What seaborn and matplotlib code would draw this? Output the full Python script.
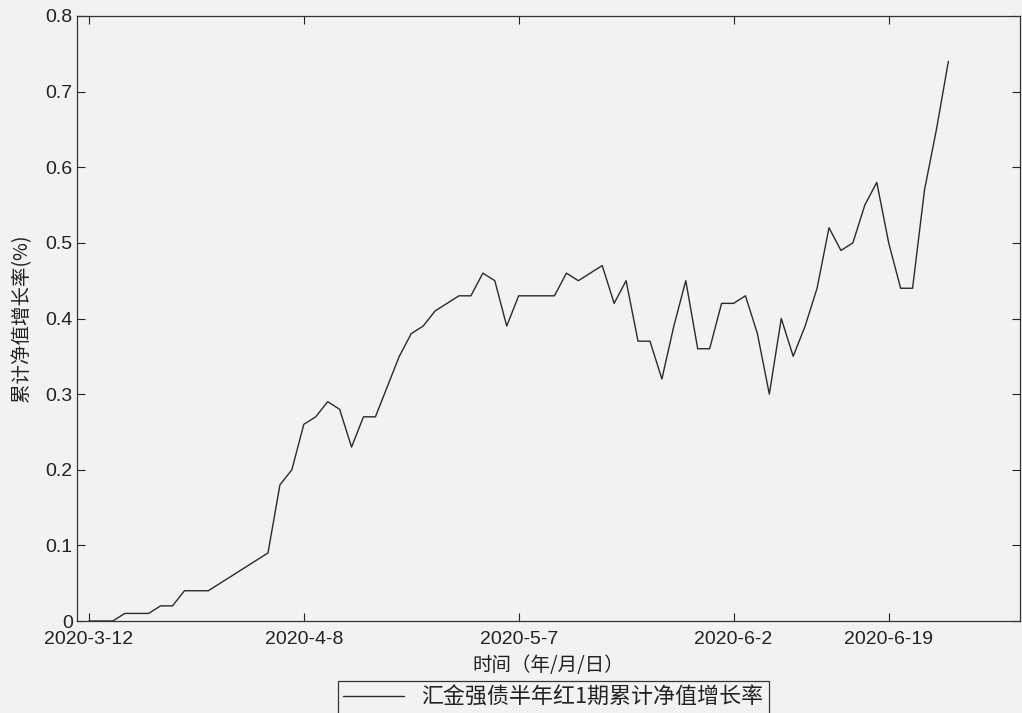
import matplotlib
matplotlib.use("Agg")
import matplotlib.pyplot as plt
import seaborn as sns
import pandas as pd

# trading dates (2020) covered by the series
dates = [
    "2020-3-12", "2020-3-13", "2020-3-16", "2020-3-17", "2020-3-18", "2020-3-19", "2020-3-20",
    "2020-3-23", "2020-3-24", "2020-3-25", "2020-3-26", "2020-3-27", "2020-3-30", "2020-3-31",
    "2020-4-1", "2020-4-2", "2020-4-3", "2020-4-7", "2020-4-8", "2020-4-9", "2020-4-10",
    "2020-4-13", "2020-4-14", "2020-4-15", "2020-4-16", "2020-4-17", "2020-4-20", "2020-4-21",
    "2020-4-22", "2020-4-23", "2020-4-24", "2020-4-27", "2020-4-28", "2020-4-29", "2020-4-30",
    "2020-5-6", "2020-5-7", "2020-5-8", "2020-5-11", "2020-5-12", "2020-5-13", "2020-5-14",
    "2020-5-15", "2020-5-18", "2020-5-19", "2020-5-20", "2020-5-21", "2020-5-22", "2020-5-25",
    "2020-5-26", "2020-5-27", "2020-5-28", "2020-5-29", "2020-6-1", "2020-6-2", "2020-6-3",
    "2020-6-4", "2020-6-5", "2020-6-8", "2020-6-9", "2020-6-10", "2020-6-11", "2020-6-12",
    "2020-6-15", "2020-6-16", "2020-6-17", "2020-6-18", "2020-6-19", "2020-6-22", "2020-6-23",
    "2020-6-24", "2020-6-29", "2020-6-30",
]

growth = [
    0.00, 0.00, 0.00, 0.01, 0.01, 0.01, 0.02, 0.02, 0.04, 0.04,
    0.04, 0.05, 0.06, 0.07, 0.08, 0.09, 0.18, 0.20, 0.26, 0.27,
    0.29, 0.28, 0.23, 0.27, 0.27, 0.31, 0.35, 0.38, 0.39, 0.41,
    0.42, 0.43, 0.43, 0.46, 0.45, 0.39, 0.43, 0.43, 0.43, 0.43,
    0.46, 0.45, 0.46, 0.47, 0.42, 0.45, 0.37, 0.37, 0.32, 0.39,
    0.45, 0.36, 0.36, 0.42, 0.42, 0.43, 0.38, 0.30, 0.40, 0.35,
    0.39, 0.44, 0.52, 0.49, 0.50, 0.55, 0.58, 0.50, 0.44, 0.44,
    0.57, 0.65, 0.74,
]

tick_labels = ["2020-3-12", "2020-4-8", "2020-5-7", "2020-6-2", "2020-6-19"]
y_ticks = [0, 0.1, 0.2, 0.3, 0.4, 0.5, 0.6, 0.7, 0.8]
y_tick_labels = ["0", "0.1", "0.2", "0.3", "0.4", "0.5", "0.6", "0.7", "0.8"]

series_name = "汇金强债半年红1期累计净值增长率"
x_label = "时间（年/月/日）"
y_label = "累计净值增长率(%)"

df = pd.DataFrame({"idx": range(len(dates)), "date": dates, "growth": growth})

sns.set_style("ticks")
bg = "#f2f2f0"
plt.rcParams["font.family"] = ["Liberation Sans", "Noto Sans CJK SC", "DejaVu Sans"]
plt.rcParams["xtick.direction"] = "in"
plt.rcParams["ytick.direction"] = "in"

fig = plt.figure(figsize=(10.22, 7.13), dpi=100, facecolor=bg)
ax = fig.add_axes([77 / 1022, 1 - 621 / 713, (1020 - 77) / 1022, (621 - 16) / 713])
ax.set_facecolor(bg)

sns.lineplot(data=df, x="idx", y="growth", ax=ax, color="#2a2a2a", linewidth=1.0,
             label=series_name)

ax.set_xlim(-1, 78)
ax.set_ylim(0, 0.8)
ax.set_xticks([dates.index(t) for t in tick_labels])
ax.set_xticklabels(tick_labels)
ax.set_yticks(y_ticks)
ax.set_yticklabels(y_tick_labels)
ax.tick_params(axis="both", which="both", top=True, right=True, length=6, width=0.8,
               labelsize=14, colors="#222222")
ax.tick_params(axis="x", pad=7)
ax.tick_params(axis="y", pad=3)
for s in ax.spines.values():
    s.set_visible(True)
    s.set_color("#333333")
    s.set_linewidth(0.9)

ax.set_xlabel(x_label, fontsize=14, family=["Noto Sans CJK SC", "DejaVu Sans"],
              color="#222222", labelpad=5)
ax.set_ylabel(y_label, fontsize=14, family=["Noto Sans CJK SC", "DejaVu Sans"],
              color="#222222", labelpad=10)

leg = ax.legend(loc="upper center", bbox_to_anchor=(0.505, -0.099), borderaxespad=0,
                frameon=True, fancybox=False, edgecolor="#333333", facecolor=bg,
                framealpha=1, handlelength=2.75, borderpad=0.25,
                prop={"family": ["Noto Sans CJK SC", "DejaVu Sans"], "size": 15.8})
leg.get_frame().set_linewidth(0.9)
for t in leg.get_texts():
    t.set_color("#222222")

fig.savefig("out.png", dpi=100, facecolor=bg)
